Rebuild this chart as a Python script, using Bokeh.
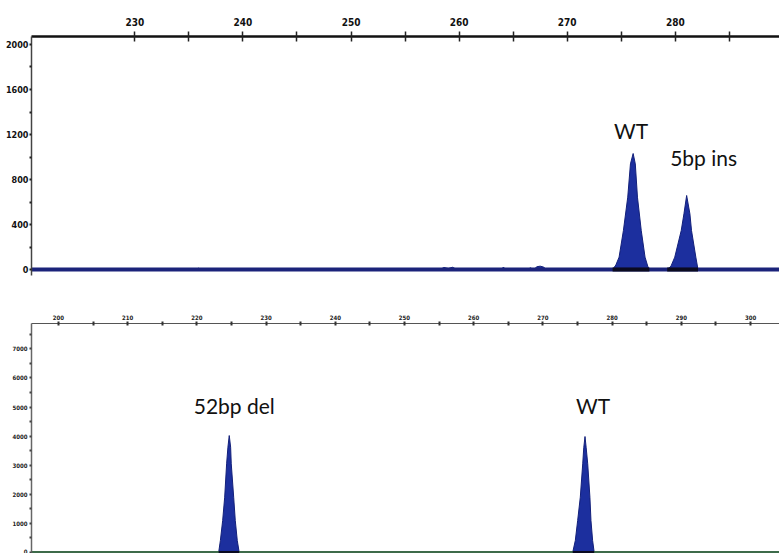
from bokeh.plotting import figure
from bokeh.layouts import column
from bokeh.models import FixedTicker, Range1d
from bokeh.core.properties import value
from bokeh.embed import file_html
from bokeh.resources import INLINE

# ---------------- data ----------------
# Top electropherogram: size (bp) vs intensity (RFU)
top_wt_x = [274.2, 274.5, 274.8, 275.2, 275.6, 275.85, 276.1, 276.3, 276.5, 276.85, 277.2, 277.45, 277.6]
top_wt_y = [0, 40, 110, 347, 643, 939, 1031, 939, 643, 347, 110, 30, 0]
top_ins_x = [279.25, 279.6, 279.95, 280.55, 280.8, 281.05, 281.35, 281.5, 281.9, 282.1]
top_ins_y = [0, 30, 110, 347, 495, 658, 495, 347, 110, 0]
top_noise_x = [235.7, 235.9, 236.1, 258.2, 258.6, 259.0, 259.4, 259.8, 263.9, 264.1, 264.3,
               266.3, 266.6, 266.9, 267.2, 267.5, 267.8, 268.1]
top_noise_y = [0, 12, 0, 0, 18, 10, 20, 0, 0, 22, 0, 0, 15, 0, 25, 30, 22, 0]
top_base_x = [220.0, 290.0]
top_base_y = [0, 0]
top_x_ticks = [230, 240, 250, 260, 270, 280, 290]
top_x_minor = [235, 245, 255, 265, 275, 285]
top_y_ticks = [0, 400, 800, 1200, 1600, 2000]
top_y_minor = [200, 600, 1000, 1400, 1800]
top_labels = ["WT", "5bp ins"]

# Bottom electropherogram
bot_del_x = [223.15, 223.4, 223.73, 224.02, 224.3, 224.49, 224.68, 224.88, 224.97, 225.32, 225.55, 225.84, 226.12]
bot_del_y = [0, 412, 1100, 1900, 3048, 3620, 4020, 3620, 3048, 1900, 1100, 412, 0]
bot_wt_x = [274.3, 274.68, 275.02, 275.4, 275.75, 275.9, 276.08, 276.25, 276.47, 276.79, 276.94, 277.18, 277.41]
bot_wt_y = [0, 412, 1100, 1900, 3048, 3600, 3986, 3600, 3048, 1900, 1100, 412, 0]
bot_base_x = [196.0, 305.0]
bot_base_y = [0, 0]
bot_x_ticks = [200, 210, 220, 230, 240, 250, 260, 270, 280, 290, 300]
bot_x_minor = [205, 215, 225, 235, 245, 255, 265, 275, 285, 295]
bot_y_ticks = [0, 1000, 2000, 3000, 4000, 5000, 6000, 7000]
bot_y_minor = [500, 1500, 2500, 3500, 4500, 5500, 6500, 7500]
bot_labels = ["52bp del", "WT"]

PEAK = "#1c2f9e"
PEAK_EDGE = "#13207a"
LABEL_FONT = value("Lato")
TICK_FONT = "DejaVu Sans Condensed"


def style(p):
    p.xgrid.visible = False
    p.ygrid.visible = False
    p.outline_line_color = None
    p.background_fill_color = "white"
    p.border_fill_color = "white"


# ---------------- top panel ----------------
p1 = figure(width=779, height=300, x_range=Range1d(220.44, 289.64), y_range=Range1d(-53, 2071),
            x_axis_location="above", toolbar_location=None, output_backend="svg",
            min_border_left=31, min_border_top=36, min_border_bottom=25, min_border_right=0)
style(p1)
xa = p1.xaxis[0]
xa.ticker = FixedTicker(ticks=top_x_ticks, minor_ticks=top_x_minor)
xa.axis_line_width = 2.5
xa.axis_line_color = "#111111"
xa.major_tick_in = 5
xa.major_tick_out = 5
xa.minor_tick_in = 5
xa.minor_tick_out = 5
xa.major_tick_line_width = 1.5
xa.minor_tick_line_width = 1.5
xa.major_tick_line_color = "#222222"
xa.minor_tick_line_color = "#222222"
xa.major_label_text_font = TICK_FONT
xa.major_label_text_font_style = "bold"
xa.major_label_text_font_size = "10px"
xa.major_label_text_color = "#111111"
xa.major_label_standoff = 6
ya = p1.yaxis[0]
ya.ticker = FixedTicker(ticks=top_y_ticks, minor_ticks=top_y_minor)
ya.axis_line_width = 1.5
ya.axis_line_color = "#444444"
ya.major_tick_in = 0
ya.major_tick_out = 2
ya.minor_tick_in = 0
ya.minor_tick_out = 2
ya.major_tick_line_width = 2
ya.minor_tick_line_width = 2
ya.major_tick_line_color = "#222222"
ya.minor_tick_line_color = "#222222"
ya.major_label_text_font = TICK_FONT
ya.major_label_text_font_style = "bold"
ya.major_label_text_font_size = "9px"
ya.major_label_text_color = "#111111"
ya.major_label_standoff = 1

for xs, ys in [(top_wt_x, top_wt_y), (top_ins_x, top_ins_y), (top_noise_x, top_noise_y)]:
    p1.varea(x=xs, y1=[0] * len(xs), y2=ys, fill_color=PEAK)
    p1.line(x=xs, y=ys, line_color=PEAK_EDGE, line_width=1)
p1.line(x=top_base_x, y=top_base_y, line_color="#1b237a", line_width=4)
for xs in [top_wt_x, top_ins_x]:
    p1.line(x=[min(xs), max(xs)], y=[0, 0], line_color="#0a0a20", line_width=4)

offs_top = [(-2, -23), (17, -38)]
for (xs, ys), lab, (dx, dy) in zip([(top_wt_x, top_wt_y), (top_ins_x, top_ins_y)], top_labels, offs_top):
    i = ys.index(max(ys))
    p1.text(x=[xs[i]], y=[ys[i]], text=[lab], x_offset=dx, y_offset=dy,
            text_font=LABEL_FONT, text_font_size="21px", text_align="center",
            text_baseline="middle", text_color="#111111")

# ---------------- bottom panel ----------------
p2 = figure(width=779, height=253, x_range=Range1d(196.11, 304.18), y_range=Range1d(-34, 7870),
            x_axis_location="above", toolbar_location=None, output_backend="svg",
            min_border_left=29, min_border_top=23, min_border_bottom=0, min_border_right=0)
style(p2)
xb = p2.xaxis[0]
xb.ticker = FixedTicker(ticks=bot_x_ticks, minor_ticks=bot_x_minor)
xb.axis_line_width = 1
xb.axis_line_color = "#555555"
xb.major_tick_in = 2
xb.major_tick_out = 2
xb.minor_tick_in = 2
xb.minor_tick_out = 2
xb.major_tick_line_width = 2
xb.minor_tick_line_width = 2
xb.major_tick_line_color = "#333333"
xb.minor_tick_line_color = "#333333"
xb.major_label_text_font = TICK_FONT
xb.major_label_text_font_style = "bold"
xb.major_label_text_font_size = "6px"
xb.major_label_text_color = "#222222"
xb.major_label_standoff = 2
yb = p2.yaxis[0]
yb.ticker = FixedTicker(ticks=bot_y_ticks, minor_ticks=bot_y_minor)
yb.axis_line_width = 1.5
yb.axis_line_color = "#666666"
yb.major_tick_in = 0
yb.major_tick_out = 2
yb.minor_tick_in = 0
yb.minor_tick_out = 2
yb.major_tick_line_width = 2
yb.minor_tick_line_width = 2
yb.major_tick_line_color = "#444444"
yb.minor_tick_line_color = "#444444"
yb.major_label_text_font = TICK_FONT
yb.major_label_text_font_style = "bold"
yb.major_label_text_font_size = "6px"
yb.major_label_text_color = "#222222"
yb.major_label_standoff = 2

for xs, ys in [(bot_del_x, bot_del_y), (bot_wt_x, bot_wt_y)]:
    p2.varea(x=xs, y1=[0] * len(xs), y2=ys, fill_color=PEAK)
    p2.line(x=xs, y=ys, line_color=PEAK_EDGE, line_width=1)
p2.line(x=bot_base_x, y=bot_base_y, line_color="#3d6b4a", line_width=3)
for xs in [bot_del_x, bot_wt_x]:
    p2.line(x=[min(xs), max(xs)], y=[0, 0], line_color="#0a0a20", line_width=3)

offs_bot = [(5, -30), (8, -31)]
for (xs, ys), lab, (dx, dy) in zip([(bot_del_x, bot_del_y), (bot_wt_x, bot_wt_y)], bot_labels, offs_bot):
    i = ys.index(max(ys))
    p2.text(x=[xs[i]], y=[ys[i]], text=[lab], x_offset=dx, y_offset=dy,
            text_font=LABEL_FONT, text_font_size="21px", text_align="center",
            text_baseline="middle", text_color="#111111")

layout = column(p1, p2, spacing=0)
open("out.html", "w").write(file_html(layout, INLINE))
